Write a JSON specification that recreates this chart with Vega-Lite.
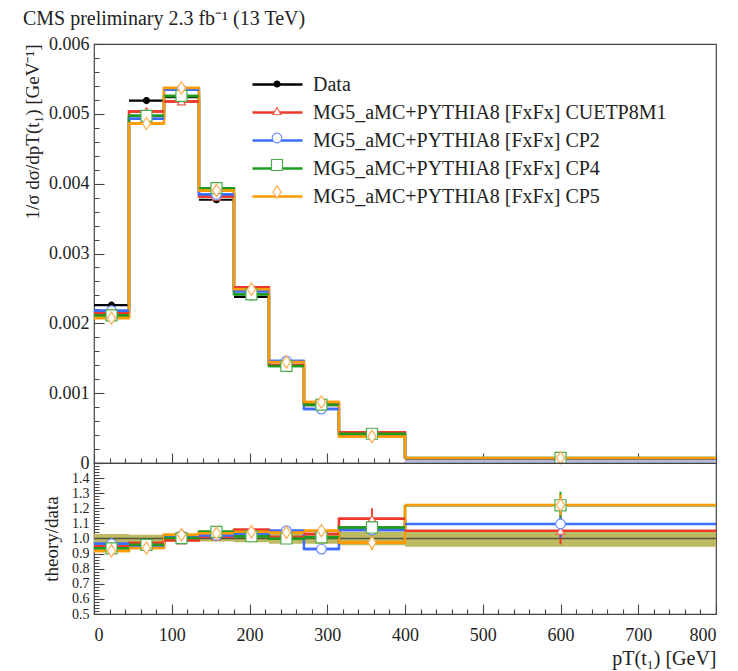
{
"$schema": "https://vega.github.io/schema/vega-lite/v6.json",
"background": "white",
"padding": {"left": 22, "top": 9, "right": 16, "bottom": 5},
"config": {
  "font": "Liberation Serif",
  "view": {"stroke": "#444", "strokeWidth": 1.2},
  "axis": {"labelFont": "Liberation Serif", "titleFont": "Liberation Serif", "labelColor": "#222", "titleColor": "#222", "tickColor": "#444", "tickWidth": 1.1, "domain": false, "grid": false, "ticks": true, "titleFontWeight": "normal", "labelOverlap": false, "labelBound": false, "tickSize": 10, "offset": -10},
  "legend": {"labelFont": "Liberation Serif"}
},
"title": {"text": "CMS preliminary 2.3 fb⁻¹ (13 TeV)", "anchor": "start", "fontSize": 20, "fontWeight": "normal", "font": "Liberation Serif", "color": "#222", "offset": 5},
"data": {"values": [
{"s":"Data","lo":0,"hi":45,"c":22.5,"y":0.00226,"ylo":0.00223,"yhi":0.00229,"r":1,"rlo":0.97,"rhi":1.03},
{"s":"Data","lo":45,"hi":90,"c":67.5,"y":0.00519,"ylo":0.00514,"yhi":0.00524,"r":1,"rlo":0.975,"rhi":1.025},
{"s":"Data","lo":90,"hi":135,"c":112.5,"y":0.00524,"ylo":0.00519,"yhi":0.00529,"r":1,"rlo":0.98,"rhi":1.02},
{"s":"Data","lo":135,"hi":180,"c":157.5,"y":0.00377,"ylo":0.00373,"yhi":0.00381,"r":1,"rlo":0.98,"rhi":1.02},
{"s":"Data","lo":180,"hi":225,"c":202.5,"y":0.00238,"ylo":0.00235,"yhi":0.00241,"r":1,"rlo":0.975,"rhi":1.025},
{"s":"Data","lo":225,"hi":270,"c":247.5,"y":0.00139,"ylo":0.00137,"yhi":0.00141,"r":1,"rlo":0.965,"rhi":1.035},
{"s":"Data","lo":270,"hi":315,"c":292.5,"y":0.00083,"ylo":0.00082,"yhi":0.00084,"r":1,"rlo":0.965,"rhi":1.035},
{"s":"Data","lo":315,"hi":400,"c":357.5,"y":0.00039,"ylo":0.00038,"yhi":0.0004,"r":1,"rlo":0.955,"rhi":1.045},
{"s":"Data","lo":400,"hi":800,"c":600,"y":0.00006,"ylo":0.000057,"yhi":0.000063,"r":1,"rlo":0.945,"rhi":1.045,"blo":0.000005,"bhi":0.00005},
{"s":"MG5_aMC+PYTHIA8 [FxFx] CUETP8M1","lo":0,"hi":45,"c":22.5,"y":0.002143,"ylo":0.002115,"yhi":0.00217,"r":0.948,"rlo":0.936,"rhi":0.96},
{"s":"MG5_aMC+PYTHIA8 [FxFx] CUETP8M1","lo":45,"hi":90,"c":67.5,"y":0.005034,"ylo":0.004982,"yhi":0.005086,"r":0.97,"rlo":0.96,"rhi":0.98},
{"s":"MG5_aMC+PYTHIA8 [FxFx] CUETP8M1","lo":90,"hi":135,"c":112.5,"y":0.005177,"ylo":0.005125,"yhi":0.00523,"r":0.988,"rlo":0.978,"rhi":0.998},
{"s":"MG5_aMC+PYTHIA8 [FxFx] CUETP8M1","lo":135,"hi":180,"c":157.5,"y":0.003815,"ylo":0.00377,"yhi":0.00386,"r":1.012,"rlo":1.0,"rhi":1.024},
{"s":"MG5_aMC+PYTHIA8 [FxFx] CUETP8M1","lo":180,"hi":225,"c":202.5,"y":0.002518,"ylo":0.002482,"yhi":0.002554,"r":1.058,"rlo":1.043,"rhi":1.073},
{"s":"MG5_aMC+PYTHIA8 [FxFx] CUETP8M1","lo":225,"hi":270,"c":247.5,"y":0.001404,"ylo":0.001376,"yhi":0.001432,"r":1.01,"rlo":0.99,"rhi":1.03},
{"s":"MG5_aMC+PYTHIA8 [FxFx] CUETP8M1","lo":270,"hi":315,"c":292.5,"y":0.000855,"ylo":0.00083,"yhi":0.00088,"r":1.03,"rlo":1.0,"rhi":1.06},
{"s":"MG5_aMC+PYTHIA8 [FxFx] CUETP8M1","lo":315,"hi":400,"c":357.5,"y":0.000441,"ylo":0.000413,"yhi":0.000468,"r":1.13,"rlo":1.06,"rhi":1.2},
{"s":"MG5_aMC+PYTHIA8 [FxFx] CUETP8M1","lo":400,"hi":800,"c":600,"y":0.0000631,"ylo":0.0000589,"yhi":0.0000673,"r":1.051,"rlo":0.961,"rhi":1.141},
{"s":"MG5_aMC+PYTHIA8 [FxFx] CP2","lo":0,"hi":45,"c":22.5,"y":0.002181,"ylo":0.002158,"yhi":0.002204,"r":0.965,"rlo":0.955,"rhi":0.975},
{"s":"MG5_aMC+PYTHIA8 [FxFx] CP2","lo":45,"hi":90,"c":67.5,"y":0.004931,"ylo":0.004879,"yhi":0.004982,"r":0.95,"rlo":0.94,"rhi":0.96},
{"s":"MG5_aMC+PYTHIA8 [FxFx] CP2","lo":90,"hi":135,"c":112.5,"y":0.005345,"ylo":0.005292,"yhi":0.005397,"r":1.02,"rlo":1.01,"rhi":1.03},
{"s":"MG5_aMC+PYTHIA8 [FxFx] CP2","lo":135,"hi":180,"c":157.5,"y":0.003845,"ylo":0.0038,"yhi":0.003891,"r":1.02,"rlo":1.008,"rhi":1.032},
{"s":"MG5_aMC+PYTHIA8 [FxFx] CP2","lo":180,"hi":225,"c":202.5,"y":0.002459,"ylo":0.002423,"yhi":0.002494,"r":1.033,"rlo":1.018,"rhi":1.048},
{"s":"MG5_aMC+PYTHIA8 [FxFx] CP2","lo":225,"hi":270,"c":247.5,"y":0.001462,"ylo":0.001435,"yhi":0.00149,"r":1.052,"rlo":1.032,"rhi":1.072},
{"s":"MG5_aMC+PYTHIA8 [FxFx] CP2","lo":270,"hi":315,"c":292.5,"y":0.000772,"ylo":0.000747,"yhi":0.000797,"r":0.93,"rlo":0.9,"rhi":0.96},
{"s":"MG5_aMC+PYTHIA8 [FxFx] CP2","lo":315,"hi":400,"c":357.5,"y":0.000412,"ylo":0.000392,"yhi":0.000431,"r":1.056,"rlo":1.006,"rhi":1.106},
{"s":"MG5_aMC+PYTHIA8 [FxFx] CP2","lo":400,"hi":800,"c":600,"y":0.0000658,"ylo":0.0000616,"yhi":0.00007,"r":1.096,"rlo":1.006,"rhi":1.186},
{"s":"MG5_aMC+PYTHIA8 [FxFx] CP4","lo":0,"hi":45,"c":22.5,"y":0.002113,"ylo":0.002091,"yhi":0.002136,"r":0.935,"rlo":0.925,"rhi":0.945},
{"s":"MG5_aMC+PYTHIA8 [FxFx] CP4","lo":45,"hi":90,"c":67.5,"y":0.004972,"ylo":0.00491,"yhi":0.005034,"r":0.958,"rlo":0.946,"rhi":0.97},
{"s":"MG5_aMC+PYTHIA8 [FxFx] CP4","lo":90,"hi":135,"c":112.5,"y":0.005256,"ylo":0.005203,"yhi":0.005308,"r":1.003,"rlo":0.993,"rhi":1.013},
{"s":"MG5_aMC+PYTHIA8 [FxFx] CP4","lo":135,"hi":180,"c":157.5,"y":0.003936,"ylo":0.003879,"yhi":0.003993,"r":1.044,"rlo":1.029,"rhi":1.059},
{"s":"MG5_aMC+PYTHIA8 [FxFx] CP4","lo":180,"hi":225,"c":202.5,"y":0.002416,"ylo":0.00238,"yhi":0.002451,"r":1.015,"rlo":1.0,"rhi":1.03},
{"s":"MG5_aMC+PYTHIA8 [FxFx] CP4","lo":225,"hi":270,"c":247.5,"y":0.00139,"ylo":0.001355,"yhi":0.001425,"r":1.0,"rlo":0.975,"rhi":1.025},
{"s":"MG5_aMC+PYTHIA8 [FxFx] CP4","lo":270,"hi":315,"c":292.5,"y":0.000837,"ylo":0.000812,"yhi":0.000862,"r":1.008,"rlo":0.978,"rhi":1.038},
{"s":"MG5_aMC+PYTHIA8 [FxFx] CP4","lo":315,"hi":400,"c":357.5,"y":0.000419,"ylo":0.000395,"yhi":0.000442,"r":1.073,"rlo":1.013,"rhi":1.133},
{"s":"MG5_aMC+PYTHIA8 [FxFx] CP4","lo":400,"hi":800,"c":600,"y":0.0000732,"ylo":0.0000678,"yhi":0.0000786,"r":1.22,"rlo":1.13,"rhi":1.31},
{"s":"MG5_aMC+PYTHIA8 [FxFx] CP5","lo":0,"hi":45,"c":22.5,"y":0.002075,"ylo":0.002052,"yhi":0.002097,"r":0.918,"rlo":0.908,"rhi":0.928},
{"s":"MG5_aMC+PYTHIA8 [FxFx] CP5","lo":45,"hi":90,"c":67.5,"y":0.004863,"ylo":0.004811,"yhi":0.004915,"r":0.937,"rlo":0.927,"rhi":0.947},
{"s":"MG5_aMC+PYTHIA8 [FxFx] CP5","lo":90,"hi":135,"c":112.5,"y":0.005371,"ylo":0.005319,"yhi":0.005423,"r":1.025,"rlo":1.015,"rhi":1.035},
{"s":"MG5_aMC+PYTHIA8 [FxFx] CP5","lo":135,"hi":180,"c":157.5,"y":0.003902,"ylo":0.003857,"yhi":0.003947,"r":1.035,"rlo":1.023,"rhi":1.047},
{"s":"MG5_aMC+PYTHIA8 [FxFx] CP5","lo":180,"hi":225,"c":202.5,"y":0.002487,"ylo":0.002451,"yhi":0.002523,"r":1.045,"rlo":1.03,"rhi":1.06},
{"s":"MG5_aMC+PYTHIA8 [FxFx] CP5","lo":225,"hi":270,"c":247.5,"y":0.001446,"ylo":0.001418,"yhi":0.001473,"r":1.04,"rlo":1.02,"rhi":1.06},
{"s":"MG5_aMC+PYTHIA8 [FxFx] CP5","lo":270,"hi":315,"c":292.5,"y":0.000873,"ylo":0.000848,"yhi":0.000898,"r":1.052,"rlo":1.022,"rhi":1.082},
{"s":"MG5_aMC+PYTHIA8 [FxFx] CP5","lo":315,"hi":400,"c":357.5,"y":0.00038,"ylo":0.00036,"yhi":0.000399,"r":0.973,"rlo":0.923,"rhi":1.023},
{"s":"MG5_aMC+PYTHIA8 [FxFx] CP5","lo":400,"hi":800,"c":600,"y":0.0000733,"ylo":0.0000691,"yhi":0.0000775,"r":1.222,"rlo":1.152,"rhi":1.292}
]},
"spacing": 0,
"bounds": "flush",
"resolve": {"scale": {"color": "independent", "stroke": "independent", "fill": "independent", "shape": "independent", "size": "independent"}, "legend": {"color": "independent", "stroke": "independent", "fill": "independent", "shape": "independent", "size": "independent"}},
"vconcat": [
{
  "width": 622, "height": 419,
  "encoding": {
    "x": {"field": "lo", "type": "quantitative", "scale": {"domain": [0, 800], "nice": false, "zero": false},
      "axis": {"title": null, "labels": false, "labelOverlap": false, "values": [0,20,40,60,80,100,120,140,160,180,200,220,240,260,280,300,320,340,360,380,400,420,440,460,480,500,520,540,560,580,600,620,640,660,680,700,720,740,760,780,800],
        "tickDash": {"condition": {"test": "datum.value % 100 === 0", "value": [10, 0]}, "value": [0, 5, 5, 10]}}},
    "y": {"field": "y", "type": "quantitative", "scale": {"domain": [0, 0.006], "nice": false, "zero": false},
      "axis": {"title": "1/σ dσ/dpT(t₁) [GeV⁻¹]", "titleFontSize": 19, "titleAnchor": "end", "titlePadding": 6, "labelFontSize": 18, "labelPadding": 5, "labelOverlap": false,
        "values": [0,0.0002,0.0004,0.0006,0.0008,0.001,0.0012,0.0014,0.0016,0.0018,0.002,0.0022,0.0024,0.0026,0.0028,0.003,0.0032,0.0034,0.0036,0.0038,0.004,0.0042,0.0044,0.0046,0.0048,0.005,0.0052,0.0054,0.0056,0.0058,0.006],
        "labelExpr": "abs(datum.value*1000 - round(datum.value*1000)) < 0.000001 ? (datum.value == 0 ? '0' : format(datum.value, '.3f')) : ''",
        "tickDash": {"condition": {"test": "abs(datum.value*1000 - round(datum.value*1000)) < 0.000001", "value": [10, 0]}, "value": [0, 5, 5, 10]}}}
  },
  "layer": [
    {"transform": [{"filter": "datum.s === 'Data' && isValid(datum.blo)"}], "mark": {"type": "rect", "color": "#b9b9de"},
     "encoding": {"x2": {"field": "hi"}, "y": {"field": "blo", "type": "quantitative"}, "y2": {"field": "bhi"}}},
    {"transform": [{"filter": "datum.s === 'Data'"}], "mark": {"type": "rule", "strokeWidth": 2.2},
     "encoding": {"x2": {"field": "hi"},
       "color": {"field": "s", "type": "nominal", "scale": {"domain": ["Data","MG5_aMC+PYTHIA8 [FxFx] CUETP8M1","MG5_aMC+PYTHIA8 [FxFx] CP2","MG5_aMC+PYTHIA8 [FxFx] CP4","MG5_aMC+PYTHIA8 [FxFx] CP5","zz"], "range": ["#000000","#ee3a2a","#3d6dff","#1f9a1f","#ff9a00","transparent"]},
         "legend": {"orient": "none", "legendX": 173, "legendY": 30, "title": null, "padding": 0, "values": ["Data","MG5_aMC+PYTHIA8 [FxFx] CUETP8M1","MG5_aMC+PYTHIA8 [FxFx] CP2","MG5_aMC+PYTHIA8 [FxFx] CP4","MG5_aMC+PYTHIA8 [FxFx] CP5"], "symbolType": "M-2.78,0H2.78", "symbolSize": 324, "symbolStrokeWidth": 2.5, "labelFontSize": 20, "labelColor": "#222", "labelOffset": 25, "rowPadding": 7, "labelLimit": 500}}}},
    {"transform": [{"filter": "datum.s !== 'Data'"}], "mark": {"type": "line", "interpolate": "step-after", "strokeWidth": 2.5},
     "encoding": {"color": {"field": "s", "type": "nominal"}}},
    {"transform": [{"filter": "datum.s !== 'Data'"}], "mark": {"type": "rule", "strokeWidth": 2.5},
     "encoding": {"x2": {"field": "hi"}, "color": {"field": "s", "type": "nominal"}}},
    {"mark": {"type": "rule", "strokeWidth": 2},
     "encoding": {"x": {"field": "c", "type": "quantitative"}, "y": {"field": "ylo", "type": "quantitative"}, "y2": {"field": "yhi"}, "color": {"field": "s", "type": "nominal"}}},
    {"mark": {"type": "point", "filled": true, "strokeWidth": 1.2, "opacity": 1},
     "encoding": {"x": {"field": "c", "type": "quantitative"},
       "stroke": {"field": "s", "type": "nominal", "scale": {"domain": ["Data","MG5_aMC+PYTHIA8 [FxFx] CUETP8M1","MG5_aMC+PYTHIA8 [FxFx] CP2","MG5_aMC+PYTHIA8 [FxFx] CP4","MG5_aMC+PYTHIA8 [FxFx] CP5"], "range": ["#000000","#f0604f","#6a8cff","#4aac4a","#ffac50"]},
         "legend": {"orient": "none", "legendX": 173, "legendY": 30, "title": null, "padding": 0, "labelFontSize": 20, "labelExpr": "''", "rowPadding": 7, "symbolStrokeWidth": 1.2, "symbolOpacity": 1}},
       "fill": {"field": "s", "type": "nominal", "scale": {"domain": ["Data","MG5_aMC+PYTHIA8 [FxFx] CUETP8M1","MG5_aMC+PYTHIA8 [FxFx] CP2","MG5_aMC+PYTHIA8 [FxFx] CP4","MG5_aMC+PYTHIA8 [FxFx] CP5"], "range": ["#000000","#ffffff","#ffffff","#ffffff","#ffffff"]},
         "legend": {"orient": "none", "legendX": 173, "legendY": 30, "title": null, "padding": 0, "labelFontSize": 20, "labelExpr": "''", "rowPadding": 7, "symbolStrokeWidth": 1.2, "symbolOpacity": 1}},
       "shape": {"field": "s", "type": "nominal", "scale": {"domain": ["Data","MG5_aMC+PYTHIA8 [FxFx] CUETP8M1","MG5_aMC+PYTHIA8 [FxFx] CP2","MG5_aMC+PYTHIA8 [FxFx] CP4","MG5_aMC+PYTHIA8 [FxFx] CP5"], "range": ["circle","triangle-up","circle","square","M0,-1L0.67,0L0,1L-0.67,0Z"]},
         "legend": {"orient": "none", "legendX": 173, "legendY": 30, "title": null, "padding": 0, "labelFontSize": 20, "labelExpr": "''", "rowPadding": 7, "symbolStrokeWidth": 1.2, "symbolOpacity": 1}},
       "size": {"field": "s", "type": "nominal", "scale": {"domain": ["Data","MG5_aMC+PYTHIA8 [FxFx] CUETP8M1","MG5_aMC+PYTHIA8 [FxFx] CP2","MG5_aMC+PYTHIA8 [FxFx] CP4","MG5_aMC+PYTHIA8 [FxFx] CP5"], "range": [36,150,160,121,324]},
         "legend": {"orient": "none", "legendX": 173, "legendY": 30, "title": null, "padding": 0, "labelFontSize": 20, "labelExpr": "''", "rowPadding": 7, "symbolStrokeWidth": 1.2, "symbolOpacity": 1}}}}
  ]
},
{
  "width": 622, "height": 151,
  "encoding": {
    "x": {"field": "lo", "type": "quantitative", "scale": {"domain": [0, 800], "nice": false, "zero": false},
      "axis": {"title": "pT(t₁) [GeV]", "titleAnchor": "end", "titleFontSize": 20, "titlePadding": 4, "labelFontSize": 18, "labelPadding": 12, "labelOverlap": false,
        "values": [0,20,40,60,80,100,120,140,160,180,200,220,240,260,280,300,320,340,360,380,400,420,440,460,480,500,520,540,560,580,600,620,640,660,680,700,720,740,760,780,800],
        "labelExpr": "datum.value % 100 === 0 ? datum.label : ''",
        "tickDash": {"condition": {"test": "datum.value % 100 === 0", "value": [10, 0]}, "value": [0, 5, 5, 10]}}},
    "y": {"field": "r", "type": "quantitative", "scale": {"domain": [0.5, 1.5], "nice": false, "zero": false},
      "axis": {"title": "theory/data", "titleFontSize": 19, "titlePadding": 10, "labelFontSize": 14, "labelPadding": 5, "labelOverlap": false,
        "values": [0.5,0.52,0.54,0.56,0.58,0.6,0.62,0.64,0.66,0.68,0.7,0.72,0.74,0.76,0.78,0.8,0.82,0.84,0.86,0.88,0.9,0.92,0.94,0.96,0.98,1.0,1.02,1.04,1.06,1.08,1.1,1.12,1.14,1.16,1.18,1.2,1.22,1.24,1.26,1.28,1.3,1.32,1.34,1.36,1.38,1.4,1.42,1.44,1.46,1.48,1.5],
        "labelExpr": "abs(datum.value*10 - round(datum.value*10)) < 0.0001 && datum.value < 1.45 ? format(datum.value, '.1f') : ''",
        "tickDash": {"condition": {"test": "abs(datum.value*10 - round(datum.value*10)) < 0.0001", "value": [10, 0]}, "value": [0, 5, 5, 10]}}}
  },
  "layer": [
    {"transform": [{"filter": "datum.s === 'Data'"}], "mark": {"type": "rect", "color": "#bdba62"},
     "encoding": {"x2": {"field": "hi"}, "y": {"field": "rlo", "type": "quantitative"}, "y2": {"field": "rhi"}}},
    {"transform": [{"filter": "datum.s === 'Data'"}], "mark": {"type": "rule", "strokeWidth": 1.5, "color": "#555544"},
     "encoding": {"x2": {"field": "hi"}}},
    {"transform": [{"filter": "datum.s !== 'Data'"}], "mark": {"type": "line", "interpolate": "step-after", "strokeWidth": 2.5},
     "encoding": {"color": {"field": "s", "type": "nominal", "legend": null, "scale": {"domain": ["Data","MG5_aMC+PYTHIA8 [FxFx] CUETP8M1","MG5_aMC+PYTHIA8 [FxFx] CP2","MG5_aMC+PYTHIA8 [FxFx] CP4","MG5_aMC+PYTHIA8 [FxFx] CP5"], "range": ["#000000","#ee3a2a","#3d6dff","#1f9a1f","#ff9a00"]}}}},
    {"transform": [{"filter": "datum.s !== 'Data'"}], "mark": {"type": "rule", "strokeWidth": 2.5},
     "encoding": {"x2": {"field": "hi"}, "color": {"field": "s", "type": "nominal", "legend": null}}},
    {"transform": [{"filter": "datum.s !== 'Data'"}], "mark": {"type": "rule", "strokeWidth": 2},
     "encoding": {"x": {"field": "c", "type": "quantitative"}, "y": {"field": "rlo", "type": "quantitative"}, "y2": {"field": "rhi"}, "color": {"field": "s", "type": "nominal", "legend": null}}},
    {"transform": [{"filter": "datum.s !== 'Data'"}], "mark": {"type": "point", "filled": true, "strokeWidth": 1.2, "opacity": 1},
     "encoding": {"x": {"field": "c", "type": "quantitative"},
       "stroke": {"field": "s", "type": "nominal", "legend": null, "scale": {"domain": ["Data","MG5_aMC+PYTHIA8 [FxFx] CUETP8M1","MG5_aMC+PYTHIA8 [FxFx] CP2","MG5_aMC+PYTHIA8 [FxFx] CP4","MG5_aMC+PYTHIA8 [FxFx] CP5"], "range": ["#000000","#f0604f","#6a8cff","#4aac4a","#ffac50"]}},
       "fill": {"field": "s", "type": "nominal", "legend": null, "scale": {"domain": ["Data","MG5_aMC+PYTHIA8 [FxFx] CUETP8M1","MG5_aMC+PYTHIA8 [FxFx] CP2","MG5_aMC+PYTHIA8 [FxFx] CP4","MG5_aMC+PYTHIA8 [FxFx] CP5"], "range": ["#000000","#ffffff","#ffffff","#ffffff","#ffffff"]}},
       "shape": {"field": "s", "type": "nominal", "legend": null, "scale": {"domain": ["Data","MG5_aMC+PYTHIA8 [FxFx] CUETP8M1","MG5_aMC+PYTHIA8 [FxFx] CP2","MG5_aMC+PYTHIA8 [FxFx] CP4","MG5_aMC+PYTHIA8 [FxFx] CP5"], "range": ["circle","triangle-up","circle","square","M0,-1L0.67,0L0,1L-0.67,0Z"]}},
       "size": {"field": "s", "type": "nominal", "legend": null, "scale": {"domain": ["Data","MG5_aMC+PYTHIA8 [FxFx] CUETP8M1","MG5_aMC+PYTHIA8 [FxFx] CP2","MG5_aMC+PYTHIA8 [FxFx] CP4","MG5_aMC+PYTHIA8 [FxFx] CP5"], "range": [36,150,160,121,324]}}}}
  ]
}
]
}
